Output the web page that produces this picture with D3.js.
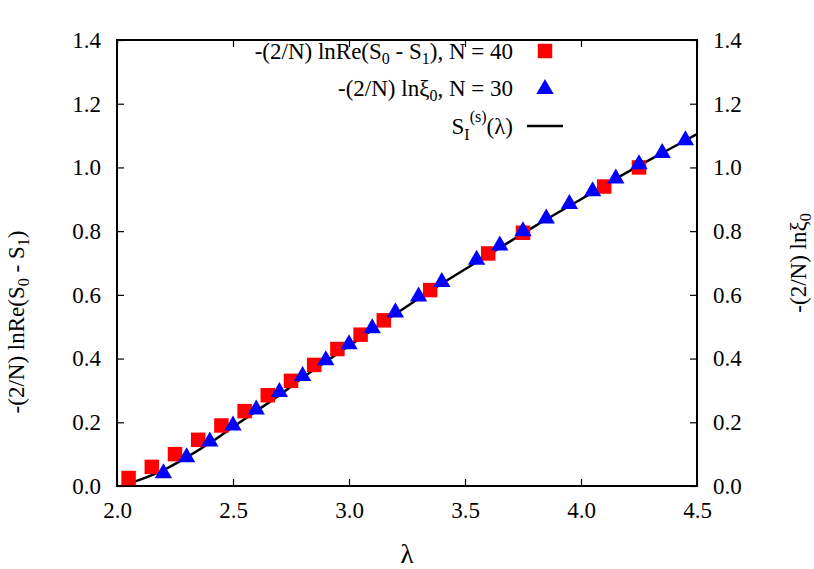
<!DOCTYPE html>
<html>
<head>
<script src="https://d3js.org/d3.v7.min.js"></script>
<style>
body { margin: 0; background: #fff; }
text { font-family: "Liberation Serif", serif; }
</style>
</head>
<body>
<script>
// data
var sqX = [2.05, 2.15, 2.25, 2.35, 2.45, 2.55, 2.65, 2.75, 2.85, 2.95, 3.05, 3.15, 3.35, 3.6, 3.75, 4.1, 4.25];
var sqY = [0.025, 0.06, 0.10, 0.145, 0.19, 0.235, 0.285, 0.33, 0.38, 0.43, 0.475, 0.52, 0.615, 0.73, 0.795, 0.94, 1.0];
var triX = [2.2, 2.3, 2.4, 2.5, 2.6, 2.7, 2.8, 2.9, 3.0, 3.1, 3.2, 3.3, 3.4, 3.55, 3.65, 3.75, 3.85, 3.95, 4.05, 4.15, 4.25, 4.35, 4.45];
var triY = [0.04, 0.09, 0.14, 0.19, 0.24, 0.295, 0.345, 0.395, 0.445, 0.495, 0.545, 0.595, 0.64, 0.71, 0.755, 0.80, 0.84, 0.885, 0.925, 0.965, 1.01, 1.045, 1.085];
var lineX = [2.02, 2.1, 2.2, 2.3, 2.4, 2.5, 2.6, 2.7, 2.8, 2.9, 3.0, 3.2, 3.4, 3.6, 3.8, 4.0, 4.2, 4.4, 4.5];
var lineY = [0.0, 0.02, 0.05, 0.09, 0.135, 0.185, 0.235, 0.285, 0.34, 0.39, 0.44, 0.54, 0.635, 0.725, 0.815, 0.9, 0.985, 1.065, 1.105];
var xTicks = [2.0, 2.5, 3.0, 3.5, 4.0, 4.5];
var yTicks = [0, 0.2, 0.4, 0.6, 0.8, 1.0, 1.2, 1.4];

var svg = d3.select("body").append("svg").attr("width", 814).attr("height", 569);
var L = 117, R = 697, T = 40, B = 486;
var x = d3.scaleLinear().domain([2, 4.5]).range([L, R]);
var y = d3.scaleLinear().domain([0, 1.4]).range([B, T]);

function styleAxis(g) {
  g.selectAll("text").attr("font-size", 23).attr("font-family", "Liberation Serif");
  g.select(".domain").remove();
  g.selectAll("line").attr("stroke", "#000").attr("stroke-width", 1.2);
}
svg.append("g").attr("transform", "translate(0," + B + ")")
  .call(d3.axisBottom(x).tickValues(xTicks).tickFormat(d3.format(".1f")).tickSizeInner(-7).tickPadding(16))
  .call(styleAxis);
svg.append("g").attr("transform", "translate(0," + T + ")")
  .call(d3.axisTop(x).tickValues(xTicks).tickFormat("").tickSizeInner(-7))
  .call(styleAxis);
svg.append("g").attr("transform", "translate(" + L + ",0)")
  .call(d3.axisLeft(y).tickValues(yTicks).tickFormat(d3.format(".1f")).tickSizeInner(-7).tickPadding(16))
  .call(styleAxis);
svg.append("g").attr("transform", "translate(" + R + ",0)")
  .call(d3.axisRight(y).tickValues(yTicks).tickFormat(d3.format(".1f")).tickSizeInner(-7).tickPadding(16))
  .call(styleAxis);
svg.append("rect").attr("x", L).attr("y", T).attr("width", R - L).attr("height", B - T)
  .attr("fill", "none").attr("stroke", "#000").attr("stroke-width", 2);

svg.append("clipPath").attr("id", "c").append("rect")
  .attr("x", L).attr("y", T).attr("width", R - L).attr("height", B - T);

var line = d3.line().curve(d3.curveMonotoneX).x(function(d){ return x(d[0]); }).y(function(d){ return y(d[1]); });
svg.append("path").datum(d3.zip(lineX, lineY)).attr("d", line)
  .attr("fill", "none").attr("stroke", "#000").attr("stroke-width", 2.5).attr("clip-path", "url(#c)");

var sq = d3.symbol().type(d3.symbolSquare).size(210);
var tri = d3.symbol().type(d3.symbolTriangle).size(130);
svg.selectAll(".sq").data(d3.zip(sqX, sqY)).enter().append("path")
  .attr("d", sq).attr("fill", "#f00")
  .attr("transform", function(d){ return "translate(" + x(d[0]) + "," + y(d[1]) + ")"; });
svg.selectAll(".tri").data(d3.zip(triX, triY)).enter().append("path")
  .attr("d", tri).attr("fill", "#00f")
  .attr("transform", function(d){ return "translate(" + x(d[0]) + "," + y(d[1]) + ")"; });

// legend
var lg = svg.append("g").attr("font-size", 23).attr("text-anchor", "end");
var t1 = lg.append("text").attr("x", 513).attr("y", 59);
t1.append("tspan").text("-(2/N) lnRe(S");
t1.append("tspan").attr("font-size", 16).attr("dy", 5).text("0");
t1.append("tspan").attr("dy", -5).text(" - S");
t1.append("tspan").attr("font-size", 16).attr("dy", 5).text("1");
t1.append("tspan").attr("dy", -5).text("), N = 40");
var t2 = lg.append("text").attr("x", 513).attr("y", 96);
t2.append("tspan").text("-(2/N) lnξ");
t2.append("tspan").attr("font-size", 16).attr("dy", 5).text("0");
t2.append("tspan").attr("dy", -5).text(", N = 30");
var t3 = lg.append("text").attr("x", 513).attr("y", 134);
t3.append("tspan").text("S");
t3.append("tspan").attr("font-size", 16).attr("dy", 6).text("I");
t3.append("tspan").attr("font-size", 16).attr("dy", -18).text("(s)");
t3.append("tspan").attr("dy", 12).text("(λ)");
svg.append("path").attr("d", sq).attr("fill", "#f00").attr("transform", "translate(545,51)");
svg.append("path").attr("d", tri).attr("fill", "#00f").attr("transform", "translate(545,89)");
svg.append("line").attr("x1", 527).attr("x2", 563).attr("y1", 126).attr("y2", 126)
  .attr("stroke", "#000").attr("stroke-width", 2.5);

// axis titles
svg.append("text").attr("x", 407).attr("y", 563).attr("text-anchor", "middle").attr("font-size", 27).text("λ");
var yl = svg.append("text").attr("transform", "translate(24,322) rotate(-90)").attr("text-anchor", "middle").attr("font-size", 23);
yl.append("tspan").text("-(2/N) lnRe(S");
yl.append("tspan").attr("font-size", 16).attr("dy", 5).text("0");
yl.append("tspan").attr("dy", -5).text(" - S");
yl.append("tspan").attr("font-size", 16).attr("dy", 5).text("1");
yl.append("tspan").attr("dy", -5).text(")");
var yr = svg.append("text").attr("transform", "translate(806,263) rotate(-90)").attr("text-anchor", "middle").attr("font-size", 23);
yr.append("tspan").text("-(2/N) lnξ");
yr.append("tspan").attr("font-size", 16).attr("dy", 5).text("0");
</script>
</body>
</html>
